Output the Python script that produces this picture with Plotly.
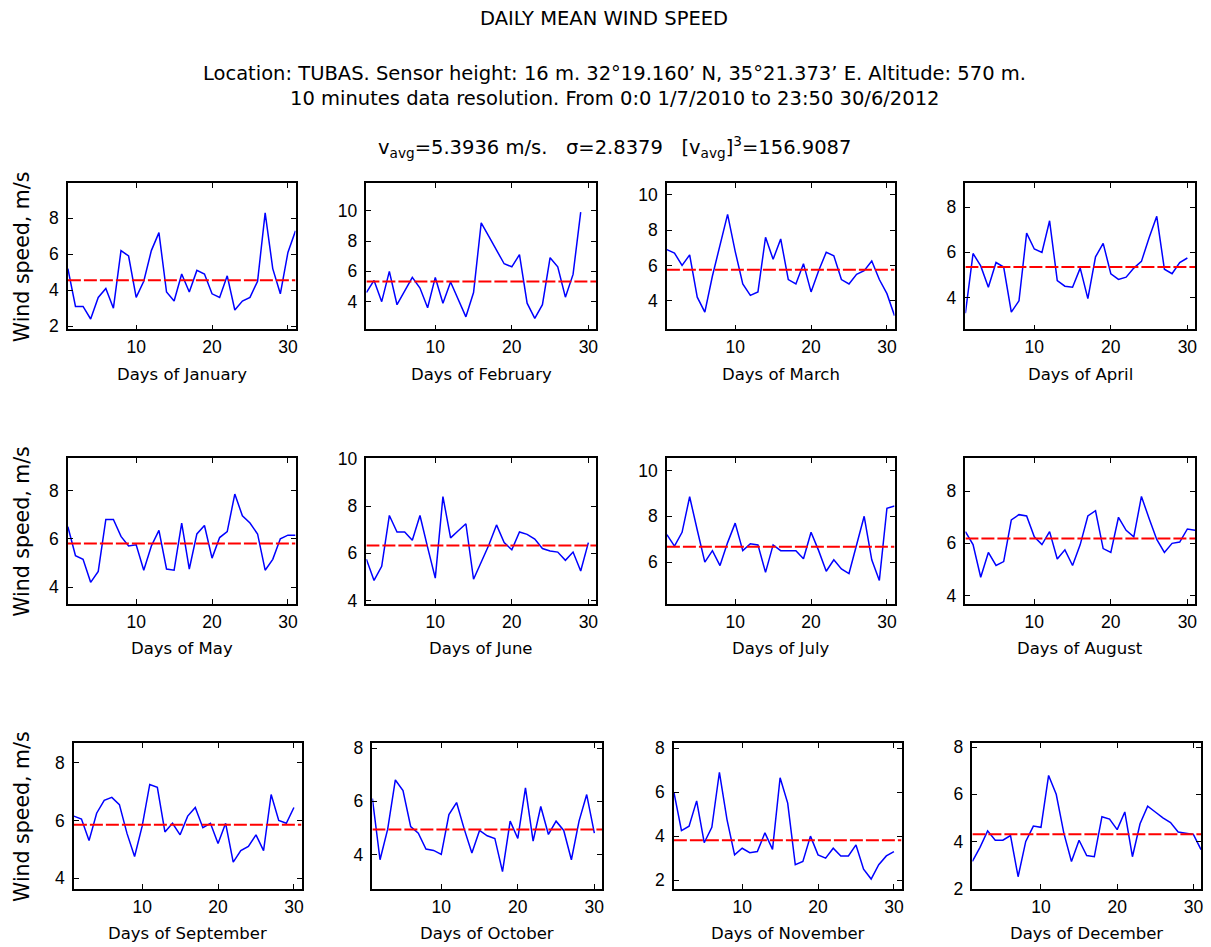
import plotly.graph_objects as go

# Daily mean wind speed per calendar month (m/s), averaged over 2010-2012
months = ["January", "February", "March", "April", "May", "June",
          "July", "August", "September", "October", "November", "December"]

jan = [5.2, 3.1, 3.1, 2.4, 3.6, 4.1, 3.0, 6.2, 5.9, 3.6, 4.5, 6.2, 7.2, 3.9, 3.4, 4.9,
       3.9, 5.1, 4.9, 3.8, 3.6, 4.8, 2.9, 3.4, 3.6, 4.5, 8.3, 5.2, 3.8, 6.1, 7.3]
feb = [4.6, 5.4, 4.0, 6.0, 3.8, 4.7, 5.6, 4.9, 3.6, 5.6, 3.9, 5.3, 4.1, 3.0, 4.6, 9.2,
       8.3, 7.4, 6.5, 6.3, 7.1, 3.9, 2.9, 3.8, 6.9, 6.3, 4.3, 5.8, 9.9]
mar = [6.9, 6.7, 6.0, 6.6, 4.2, 3.35, 5.4, 7.1, 8.9, 6.8, 4.95, 4.3, 4.5, 7.6, 6.35, 7.5,
       5.2, 4.95, 6.1, 4.5, 5.7, 6.75, 6.55, 5.2, 4.95, 5.5, 5.7, 6.25, 5.2, 4.4, 3.15]
apr = [3.3, 5.95, 5.4, 4.45, 5.55, 5.35, 3.35, 3.85, 6.85, 6.15, 6.0, 7.4, 4.75, 4.5, 4.45,
       5.3, 3.95, 5.8, 6.4, 5.05, 4.8, 4.9, 5.3, 5.6, 6.65, 7.6, 5.25, 5.05, 5.55, 5.75]
may = [6.5, 5.3, 5.15, 4.2, 4.65, 6.8, 6.8, 6.1, 5.7, 5.75, 4.7, 5.7, 6.35, 4.75, 4.7, 6.65,
       4.75, 6.2, 6.55, 5.2, 6.05, 6.3, 7.85, 6.95, 6.65, 6.2, 4.7, 5.15, 6.0, 6.15, 6.15]
jun = [5.75, 4.85, 5.45, 7.6, 6.9, 6.9, 6.55, 7.6, 6.25, 4.95, 8.4, 6.65, 6.95, 7.25, 4.9,
       5.65, 6.35, 7.2, 6.45, 6.15, 6.9, 6.8, 6.6, 6.2, 6.1, 6.05, 5.7, 6.05, 5.25, 6.45]
jul = [7.2, 6.7, 7.3, 8.85, 7.4, 6.0, 6.5, 5.85, 6.85, 7.7, 6.5, 6.8, 6.75, 5.55, 6.75, 6.5,
       6.5, 6.5, 6.15, 7.3, 6.5, 5.6, 6.1, 5.7, 5.5, 6.75, 8.0, 6.1, 5.2, 8.35, 8.45]
aug = [6.45, 5.95, 4.7, 5.65, 5.15, 5.3, 6.9, 7.1, 7.05, 6.25, 5.95, 6.45, 5.4, 5.75, 5.15,
       5.95, 7.05, 7.25, 5.8, 5.65, 7.0, 6.5, 6.25, 7.8, 6.95, 6.15, 5.65, 6.0, 6.05, 6.55, 6.5]
sep = [6.15, 6.05, 5.3, 6.25, 6.7, 6.8, 6.55, 5.55, 4.75, 5.8, 7.25, 7.15, 5.6, 5.9, 5.5,
       6.15, 6.45, 5.75, 5.9, 5.2, 5.9, 4.55, 4.95, 5.1, 5.5, 4.95, 6.9, 6.0, 5.9, 6.45]
octo = [6.1, 3.8, 4.95, 6.8, 6.4, 5.05, 4.8, 4.2, 4.15, 4.0, 5.5, 5.95, 4.95, 4.05, 4.9,
        4.7, 4.6, 3.35, 5.25, 4.6, 6.5, 4.5, 5.8, 4.75, 5.25, 4.9, 3.8, 5.25, 6.25, 4.8]
nov = [6.0, 4.25, 4.45, 5.6, 3.7, 4.4, 6.9, 4.75, 3.15, 3.45, 3.25, 3.3, 4.15, 3.4, 6.65,
       5.5, 2.7, 2.85, 4.0, 3.15, 3.0, 3.45, 3.1, 3.1, 3.6, 2.5, 2.05, 2.7, 3.1, 3.3]
dec = [3.15, 3.75, 4.45, 4.05, 4.05, 4.25, 2.5, 4.0, 4.65, 4.6, 6.8, 6.0, 4.35, 3.15, 4.05,
       3.4, 3.35, 5.05, 4.95, 4.5, 5.25, 3.35, 4.75, 5.5, 5.25, 5.0, 4.8, 4.4, 4.35, 4.3, 3.65]

daily = [jan, feb, mar, apr, may, jun, jul, aug, sep, octo, nov, dec]

# Monthly mean (red dashed reference line)
monthly_mean = [4.56, 5.33, 5.75, 5.35, 5.81, 6.33, 6.67, 6.19, 5.85, 4.94, 3.81, 4.3]

# Vertical limits of each month's panel
y_limits = [[1.82, 9.96], [2.17, 11.83], [2.37, 10.68], [2.58, 9.08],
            [3.31, 9.35], [3.86, 10.04], [4.18, 10.55], [3.68, 9.28],
            [3.62, 8.69], [2.7, 8.19], [1.6, 8.23], [1.98, 8.18]]
x_limits = [1, 31]
x_ticks = [10, 20, 30]

W, H = 1211, 947
TICK_FONT = "Liberation Sans, Arial, sans-serif"
TEXT_FONT = "DejaVu Sans, Verdana, sans-serif"

# Panel boxes in pixels: (left, right) per column, (top, bottom) per row
col_px = [[(68, 296), (367, 597), (668, 896), (967, 1197)],
          [(68, 296), (367, 597), (668, 896), (967, 1197)],
          [(74, 302), (373, 603), (675, 903), (974, 1203)]]
row_px = [(177.5, 327), (458, 607), (749, 898)]
xlabel_y = [373, 653, 943]


def px_x(p):
    return p / W


def px_y(p):
    return 1 - p / H


fig = go.Figure()
layout = dict(
    width=W, height=H,
    margin=dict(l=0, r=0, t=0, b=0),
    paper_bgcolor="white", plot_bgcolor="white",
    showlegend=False,
    font=dict(family=TEXT_FONT, color="black"),
)
annotations = []

for i, vals in enumerate(daily):
    r, c = divmod(i, 4)
    n = i + 1
    xa = "x" if n == 1 else f"x{n}"
    ya = "y" if n == 1 else f"y{n}"
    days = list(range(1, len(vals) + 1))

    fig.add_trace(go.Scatter(x=days, y=vals, mode="lines", xaxis=xa, yaxis=ya,
                             line=dict(color="#0000ff", width=1.5), hoverinfo="x+y"))
    fig.add_trace(go.Scatter(x=x_limits, y=[monthly_mean[i]] * 2, mode="lines",
                             xaxis=xa, yaxis=ya,
                             line=dict(color="#ff0000", width=2, dash="13px,3px"),
                             hoverinfo="y"))

    (x0, x1) = col_px[r][c]
    (y0, y1) = row_px[r]
    axis_common = dict(
        showline=True, linecolor="black", linewidth=1.5, mirror="ticks",
        ticks="inside", ticklen=5, tickwidth=1, tickcolor="black",
        showgrid=False, zeroline=False,
        tickfont=dict(family=TICK_FONT, size=17.5, color="black"),
    )
    layout["xaxis" if n == 1 else f"xaxis{n}"] = dict(
        axis_common, domain=[px_x(x0), px_x(x1)], range=x_limits,
        tickvals=x_ticks, anchor=ya, ticklabelstandoff=1)
    layout["yaxis" if n == 1 else f"yaxis{n}"] = dict(
        axis_common, domain=[px_y(y1), px_y(y0)], range=y_limits[i],
        tick0=0, dtick=2, anchor=xa, ticklabelstandoff=4)

    annotations.append(dict(
        text=f"Days of {months[i]}", x=px_x((x0 + x1) / 2), y=px_y(xlabel_y[r]),
        xref="paper", yref="paper", xanchor="center", yanchor="middle",
        showarrow=False, font=dict(family=TEXT_FONT, size=16.5, color="black")))

    if c == 0:
        annotations.append(dict(
            text="Wind speed, m/s", x=px_x(22), y=px_y((y0 + y1) / 2),
            xref="paper", yref="paper", xanchor="center", yanchor="middle",
            textangle=-90, showarrow=False,
            font=dict(family=TEXT_FONT, size=20.5, color="black")))

# Figure heading
heading = [
    ("DAILY MEAN WIND SPEED", 605, 10),
    ("Location: TUBAS. Sensor height: 16 m. 32°19.160’ N, 35°21.373’ E. Altitude: 570 m.", 616, 65.5),
    ("10 minutes data resolution. From 0:0 1/7/2010 to 23:50 30/6/2012", 616, 91),
    ("v<sub>avg</sub>=5.3936 m/s.   σ=2.8379   [v<sub>avg</sub>]<sup>3</sup>=156.9087", 616, 141),
]
for text, hx, hy in heading:
    annotations.append(dict(
        text=text, x=px_x(hx), y=px_y(hy), xref="paper", yref="paper",
        xanchor="center", yanchor="middle", showarrow=False,
        font=dict(family=TEXT_FONT, size=19.5, color="black")))

layout["annotations"] = annotations
fig.update_layout(**layout)
fig.write_html("out.html")
